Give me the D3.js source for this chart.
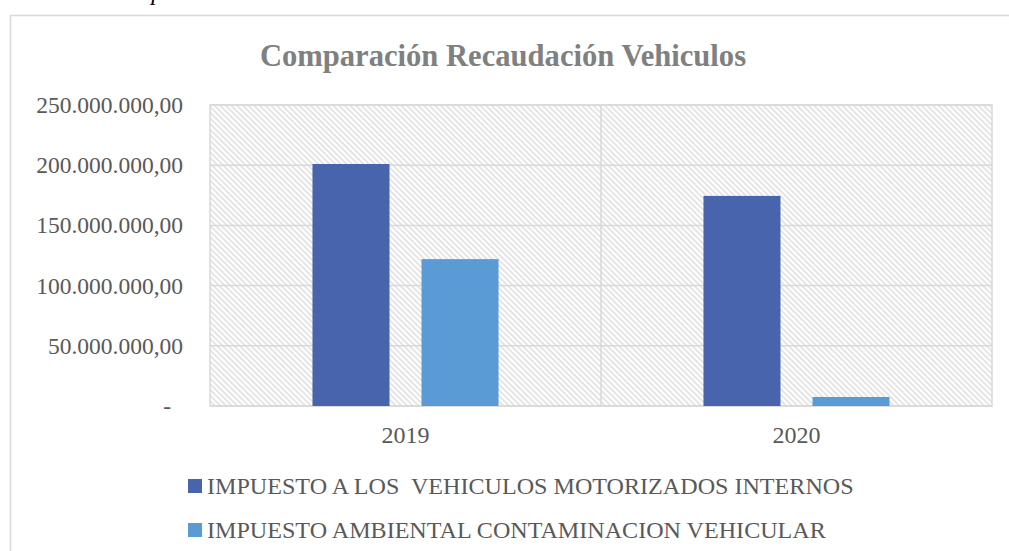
<!DOCTYPE html>
<html><head><meta charset="utf-8">
<script src="https://cdn.jsdelivr.net/npm/d3@7"></script>
<style>body{margin:0;background:#fff;overflow:hidden}</style></head>
<body><svg id="c" width="1009" height="551"></svg>
<script>
const categories = ["2019", "2020"];
const seriesNames = ["IMPUESTO A LOS  VEHICULOS MOTORIZADOS INTERNOS", "IMPUESTO AMBIENTAL CONTAMINACION VEHICULAR"];
const vehiculosMotorizados = [201000000, 174500000];
const ambientalContaminacion = [122000000, 7500000];
const yTicks = [0, 50000000, 100000000, 150000000, 200000000, 250000000];
const titleText = "Comparación Recaudación Vehiculos";
const captionPrefix = "Ilustración 1 ";
const captionText = "Impuestos Vehiculares a Recaudación 2019 - 2020";
const colors = ["#4864ad", "#5b9bd5"];

const series = [vehiculosMotorizados, ambientalContaminacion];
const font = "Liberation Serif, Times New Roman, serif";
const svg = d3.select("#c");

// patterns
const defs = svg.append("defs");
const pat = defs.append("pattern").attr("id", "hatch").attr("patternUnits", "userSpaceOnUse")
  .attr("width", 4).attr("height", 4).attr("patternTransform", "rotate(-45)");
pat.append("rect").attr("width", 4).attr("height", 4).attr("fill", "#ffffff");
pat.append("line").attr("x1", 1).attr("y1", 0).attr("x2", 1).attr("y2", 4)
  .attr("stroke", "#d8d8d8").attr("stroke-width", 1.3);

// caption (cut off at top, as in the source)
svg.append("text").attr("x", 126).attr("y", 0).attr("text-anchor", "end")
  .attr("font-family", font).attr("font-style", "italic").attr("font-size", 24).attr("fill", "#000")
  .text(captionPrefix);
svg.append("text").attr("x", 126).attr("y", 0)
  .attr("font-family", font).attr("font-style", "italic").attr("font-size", 24).attr("fill", "#000")
  .text(captionText);

// outer chart border
svg.append("rect").attr("x", 10.5).attr("y", 15.5).attr("width", 1100).attr("height", 600)
  .attr("fill", "none").attr("stroke", "#d9d9d9").attr("stroke-width", 1.5);

const L = 210, R = 992, T = 105, B = 406;
const y = d3.scaleLinear().domain([0, 250000000]).range([B, T]);
const x0 = d3.scaleBand().domain(categories).range([L, R]);
const x1 = d3.scaleBand().domain(d3.range(series.length)).range([0, x0.bandwidth()])
  .paddingInner(0.2936).paddingOuter(0.94);

// plot area hatch
svg.append("rect").attr("x", L).attr("y", T).attr("width", R - L).attr("height", B - T)
  .attr("fill", "url(#hatch)");

// gridlines
svg.append("g").selectAll("line").data(yTicks).join("line")
  .attr("x1", L).attr("x2", R).attr("y1", d => y(d)).attr("y2", d => y(d))
  .attr("stroke", "#d9d9d9").attr("stroke-width", 1.5);
svg.append("g").selectAll("line").data(categories.slice(1)).join("line")
  .attr("x1", d => x0(d)).attr("x2", d => x0(d)).attr("y1", T).attr("y2", B)
  .attr("stroke", "#d9d9d9").attr("stroke-width", 1.5);
svg.append("rect").attr("x", L).attr("y", T).attr("width", R - L).attr("height", B - T)
  .attr("fill", "none").attr("stroke", "#d9d9d9").attr("stroke-width", 1.5);

// bars
const g = svg.append("g");
series.forEach((vals, si) => {
  g.append("g").selectAll("rect").data(vals).join("rect")
    .attr("x", (d, i) => x0(categories[i]) + x1(si))
    .attr("width", x1.bandwidth())
    .attr("y", d => y(d)).attr("height", d => B - y(d))
    .attr("fill", colors[si]);
});

// y axis labels
const loc = d3.formatLocale({decimal: ",", thousands: ".", grouping: [3], currency: ["", ""]});
const fmt = loc.format(",.2f");
const yAxis = d3.axisLeft(y).tickValues(yTicks).tickSize(0).tickPadding(0)
  .tickFormat(d => d === 0 ? "-" : fmt(d));
const ya = svg.append("g").attr("transform", `translate(183,0)`).call(yAxis);
ya.select(".domain").remove();
ya.attr("font-family", null).attr("font-size", null);
ya.selectAll("text").attr("font-family", font).attr("font-size", 23.5).attr("fill", "#595959")
  .attr("dy", "0.32em");
ya.selectAll("text").filter(d => d === 0).attr("dx", -12);

// x axis labels
const xAxis = d3.axisBottom(x0).tickSize(0).tickPadding(0);
const xa = svg.append("g").attr("transform", `translate(0,${B})`).call(xAxis);
xa.select(".domain").remove();
xa.attr("font-family", null).attr("font-size", null);
xa.selectAll("text").attr("font-family", font).attr("font-size", 24).attr("fill", "#595959")
  .attr("dy", null).attr("y", 37);

// title
svg.append("text").attr("x", 503).attr("y", 66).attr("text-anchor", "middle")
  .attr("font-family", font).attr("font-weight", "bold").attr("font-size", 30.6)
  .attr("fill", "#808080").text(titleText);

// legend
const lg = svg.append("g").selectAll("g").data(seriesNames).join("g")
  .attr("transform", (d, i) => `translate(188,${486 + i * 44})`);
lg.append("rect").attr("x", 0).attr("y", -7).attr("width", 14).attr("height", 14)
  .attr("fill", (d, i) => colors[i]);
lg.append("text").attr("x", 19).attr("y", 8).attr("font-family", font).attr("font-size", 24.1)
  .attr("fill", "#595959").style("white-space", "pre").text(d => d);
</script></body></html>
